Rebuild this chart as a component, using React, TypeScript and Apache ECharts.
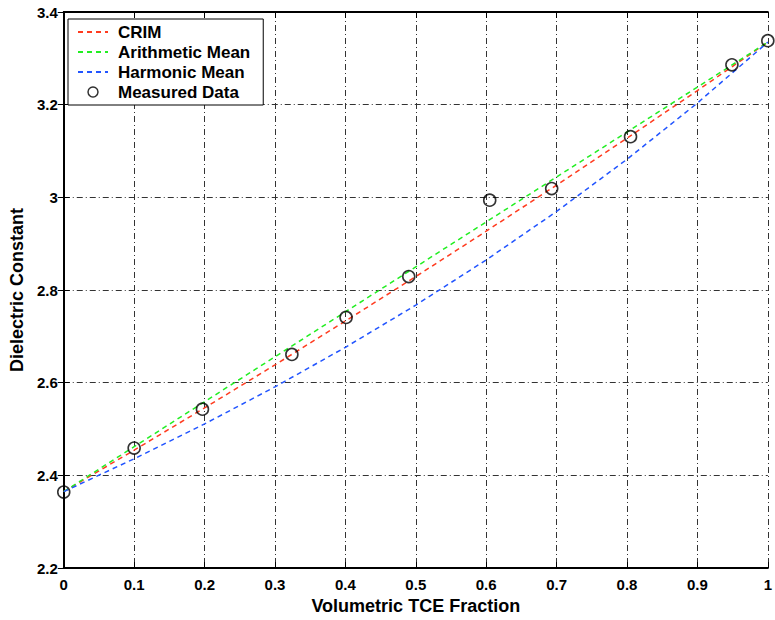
import React, { useEffect, useRef } from "react";
import * as echarts from "echarts";

const fractions = [0, 0.1, 0.2, 0.3, 0.4, 0.5, 0.6, 0.7, 0.8, 0.9, 1.0];
const crimValues = [2.365, 2.4545, 2.5457, 2.6385, 2.7331, 2.8292, 2.927, 3.0266, 3.1277, 3.2305, 3.335];
const arithmeticValues = [2.365, 2.462, 2.559, 2.656, 2.753, 2.85, 2.947, 3.044, 3.141, 3.238, 3.335];
const harmonicValues = [2.365, 2.4359, 2.5111, 2.5911, 2.6764, 2.7675, 2.865, 2.9696, 3.0822, 3.2036, 3.335];
const measuredX = [0, 0.1, 0.197, 0.324, 0.401, 0.49, 0.605, 0.693, 0.805, 0.949, 1.0];
const measuredY = [2.364, 2.459, 2.543, 2.661, 2.741, 2.829, 2.994, 3.019, 3.131, 3.286, 3.338];
const seriesNames = ["CRIM", "Arithmetic Mean", "Harmonic Mean", "Measured Data"];

const FONT = "'Liberation Sans', Arial, Helvetica, sans-serif";

export default function App() {
  const ref = useRef<HTMLDivElement>(null);
  useEffect(() => {
    if (!ref.current) return;
    const chart = echarts.init(ref.current, undefined, { renderer: "svg" });
    const gridLine = { show: true, lineStyle: { color: "#333", width: 1, type: [6, 3, 1, 3] as any } };
    const axisLine = { show: true, lineStyle: { color: "#000", width: 2 } };
    const tick = { show: true, inside: true, length: 6, lineStyle: { color: "#000", width: 1 } };
    const lbl = { color: "#000", fontWeight: "bold" as const, fontSize: 15, fontFamily: FONT };
    const pair = (xs: number[], ys: number[]) => xs.map((x, i) => [x, ys[i]]);
    const lineSeries = (name: string, ys: number[], color: string) => ({
      name,
      type: "line",
      data: pair(fractions, ys),
      symbol: "none",
      showSymbol: false,
      lineStyle: { color, width: 1.5, type: [5, 4] as any },
      itemStyle: { color },
      z: 3,
    });
    const hiddenDot = { color: "rgba(0,0,0,0)", borderColor: "rgba(0,0,0,0)", borderWidth: 0 };
    chart.setOption({
      animation: false,
      backgroundColor: "#fff",
      grid: { left: 61, right: 4, top: 12, bottom: 48, containLabel: false },
      legend: {
        show: true,
        orient: "vertical",
        left: 68,
        top: 19,
        data: [
          { name: seriesNames[0], itemStyle: hiddenDot },
          { name: seriesNames[1], itemStyle: hiddenDot },
          { name: seriesNames[2], itemStyle: hiddenDot },
          { name: seriesNames[3], icon: "circle", itemStyle: { color: "#fff", borderColor: "#000", borderWidth: 1.5 } },
        ],
        itemWidth: 30,
        itemHeight: 10,
        itemGap: 0,
        padding: [3, 13, 3, 9],
        backgroundColor: "#fff",
        borderColor: "#000",
        borderWidth: 1,
        borderRadius: 0,
        textStyle: { color: "#000", fontWeight: "bold", fontSize: 17, fontFamily: FONT, lineHeight: 20, padding: [0, 0, 0, 5] },
      },
      xAxis: [
        {
          type: "value",
          min: 0,
          max: 1,
          interval: 0.1,
          position: "bottom",
          name: "Volumetric TCE Fraction",
          nameLocation: "middle",
          nameGap: 24,
          nameTextStyle: { color: "#000", fontWeight: "bold", fontSize: 18, fontFamily: FONT, verticalAlign: "top" },
          axisLine,
          axisTick: tick,
          axisLabel: { ...lbl, margin: 9 },
          splitLine: gridLine,
        },
        {
          type: "value",
          min: 0,
          max: 1,
          interval: 0.1,
          position: "top",
          axisLine,
          axisTick: tick,
          axisLabel: { show: false },
          splitLine: { show: false },
        },
      ],
      yAxis: [
        {
          type: "value",
          min: 2.2,
          max: 3.4,
          interval: 0.2,
          position: "left",
          name: "Dielectric Constant",
          nameLocation: "middle",
          nameGap: 30,
          nameTextStyle: { color: "#000", fontWeight: "bold", fontSize: 18, fontFamily: FONT },
          axisLine,
          axisTick: tick,
          axisLabel: { ...lbl, margin: 6 },
          splitLine: gridLine,
        },
        {
          type: "value",
          min: 2.2,
          max: 3.4,
          interval: 0.2,
          position: "right",
          axisLine,
          axisTick: tick,
          axisLabel: { show: false },
          splitLine: { show: false },
        },
      ],
      series: [
        lineSeries(seriesNames[0], crimValues, "#ff3b1f"),
        lineSeries(seriesNames[1], arithmeticValues, "#22ee22"),
        lineSeries(seriesNames[2], harmonicValues, "#2255ff"),
        {
          name: seriesNames[3],
          type: "scatter",
          data: pair(measuredX, measuredY),
          symbol: "circle",
          symbolSize: 12,
          itemStyle: { color: "rgba(255,255,255,0)", borderColor: "#000", borderWidth: 1.6 },
          z: 5,
        },
      ],
    });
    return () => chart.dispose();
  }, []);
  return <div ref={ref} style={{ width: 775, height: 620, position: "absolute", left: 0, top: 0 }} />;
}
